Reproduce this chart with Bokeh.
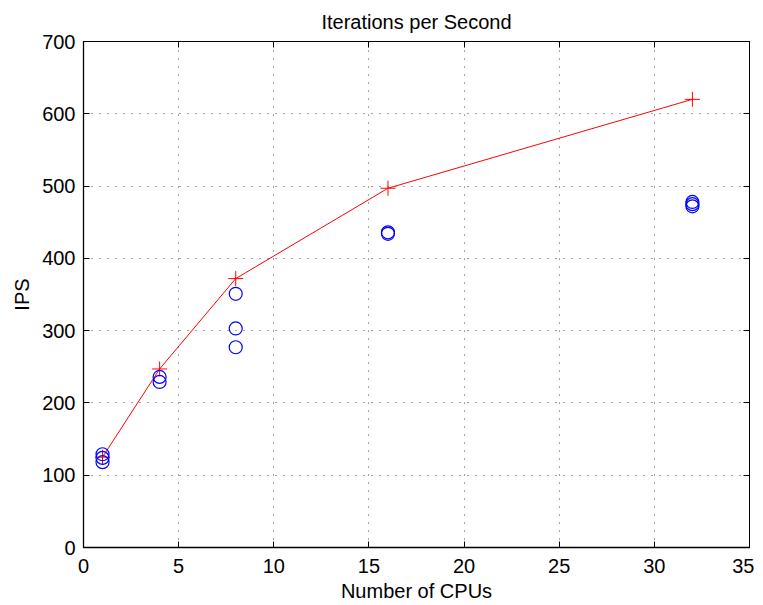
from bokeh.plotting import figure
from bokeh.models import Range1d, FixedTicker, LinearAxis, Title
from bokeh.embed import file_html
from bokeh.resources import INLINE

# Data
cpus_best = [1, 4, 8, 16, 32]
ips_best = [125, 247, 372, 497, 620]

cpus_runs = [1, 1, 1, 4, 4, 8, 8, 8, 16, 16, 32, 32, 32]
ips_runs = [129, 124, 118, 236, 229, 351, 303, 277, 436, 434, 478, 475, 472]

x_ticks = [0, 5, 10, 15, 20, 25, 30, 35]
y_ticks = [0, 100, 200, 300, 400, 500, 600, 700]

FONT = "Liberation Sans"

p = figure(width=754, height=604, output_backend="svg", toolbar_location=None,
           x_range=Range1d(0, 35), y_range=Range1d(0, 700),
           min_border_left=83, min_border_right=5, min_border_top=41, min_border_bottom=57)
p.title = None

p.background_fill_color = "white"
p.border_fill_color = "white"
p.outline_line_color = "black"
p.outline_line_width = 1

for ax in p.xaxis + p.yaxis:
    ax.axis_label_text_font = FONT
    ax.axis_label_text_font_size = "20px"
    ax.axis_label_text_font_style = "normal"
    ax.axis_label_text_color = "black"
    ax.major_label_text_font = FONT
    ax.major_label_text_font_size = "20px"
    ax.major_label_text_color = "black"
    ax.major_tick_in = 6
    ax.major_tick_out = 0
    ax.minor_tick_line_color = None
    ax.axis_line_color = "black"
    ax.axis_line_width = 1.3
    ax.major_tick_line_color = "black"

p.xaxis.ticker = FixedTicker(ticks=x_ticks)
p.yaxis.ticker = FixedTicker(ticks=y_ticks)
p.xaxis.axis_label = "Number of CPUs"
p.yaxis.axis_label = "IPS"
p.xaxis.major_label_standoff = 11
p.xaxis.axis_label_standoff = 4
p.yaxis.major_label_standoff = 8
p.yaxis.axis_label_standoff = 6

# mirror ticks on top and right (no labels)
top = LinearAxis(ticker=FixedTicker(ticks=x_ticks),
                 major_label_overrides={t: "" for t in x_ticks},
                 major_tick_in=6, major_tick_out=0, minor_tick_line_color=None,
                 axis_line_color="black", major_label_standoff=0)
right = LinearAxis(ticker=FixedTicker(ticks=y_ticks),
                   major_label_overrides={t: "" for t in y_ticks},
                   major_tick_in=6, major_tick_out=0, minor_tick_line_color=None,
                   axis_line_color="black", major_label_standoff=0)
p.add_layout(top, "above")
p.add_layout(right, "right")

title = Title(text="Iterations per Second", text_font=FONT, text_font_size="20px",
              text_font_style="normal", align="center", text_color="black", standoff=17)
p.add_layout(title, "above")

p.xgrid.ticker = FixedTicker(ticks=x_ticks)
p.ygrid.ticker = FixedTicker(ticks=y_ticks)
p.grid.grid_line_color = "black"
p.grid.grid_line_alpha = 0.7
p.grid.grid_line_dash = "1 7"
p.grid.grid_line_width = 1

p.line(cpus_best, ips_best, line_color="red", line_width=1)
p.scatter(cpus_best, ips_best, marker="cross", size=15, line_color="red", line_width=1)
p.scatter(cpus_runs, ips_runs, marker="circle", size=13, fill_color=None,
          line_color="blue", line_width=1.2)

open("out.html", "w").write(file_html(p, INLINE))
